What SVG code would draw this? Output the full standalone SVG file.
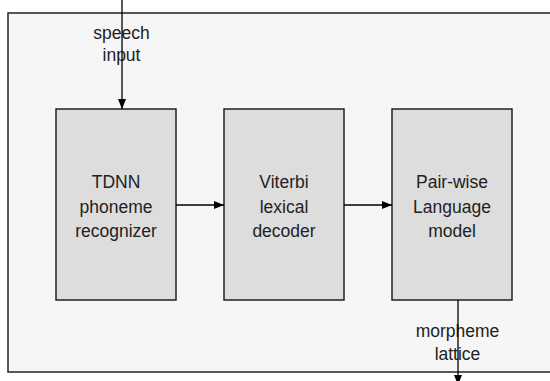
<svg xmlns="http://www.w3.org/2000/svg" width="550" height="381" viewBox="0 0 550 381">
<defs>
<style>
.frame{fill:#f6f6f6;stroke:#222;stroke-width:1.5}
.box{fill:#dddddd;stroke:#222;stroke-width:1.5}
.edge{stroke:#000;stroke-width:1.3;fill:none}
text{font-family:"Liberation Sans",Arial,sans-serif;font-size:17.5px;fill:#222;text-anchor:middle}
</style>
<marker id="arr" markerWidth="10" markerHeight="8" refX="10" refY="4" orient="auto" markerUnits="userSpaceOnUse">
<polygon points="0,0 10,4 0,8" fill="#000"/>
</marker>
</defs>
<rect width="550" height="381" fill="#fff"/>
<rect class="frame" x="8" y="13" width="548" height="359"/>
<g id="tdnn">
<rect class="box" x="56" y="109" width="120" height="191"/>
<text x="116" y="188">TDNN</text>
<text x="116" y="212.5">phoneme</text>
<text x="116" y="237">recognizer</text>
</g>
<g id="viterbi">
<rect class="box" x="224" y="109" width="120" height="191"/>
<text x="284" y="188">Viterbi</text>
<text x="284" y="212.5">lexical</text>
<text x="284" y="237">decoder</text>
</g>
<g id="lm">
<rect class="box" x="392" y="109" width="120" height="191"/>
<text x="452" y="188">Pair-wise</text>
<text x="452" y="212.5">Language</text>
<text x="452" y="237">model</text>
</g>
<g id="labels">
<text x="121.5" y="38.5">speech</text>
<text x="121.5" y="61">input</text>
<text x="457.5" y="337">morpheme</text>
<text x="457.5" y="359.5">lattice</text>
</g>
<g id="connectors">
<line class="edge" x1="122" y1="0" x2="122" y2="109" marker-end="url(#arr)"/>
<line class="edge" x1="176" y1="205" x2="224" y2="205" marker-end="url(#arr)"/>
<line class="edge" x1="344" y1="205" x2="392" y2="205" marker-end="url(#arr)"/>
<line class="edge" x1="458" y1="300" x2="458" y2="385" marker-end="url(#arr)"/>
</g>
</svg>
